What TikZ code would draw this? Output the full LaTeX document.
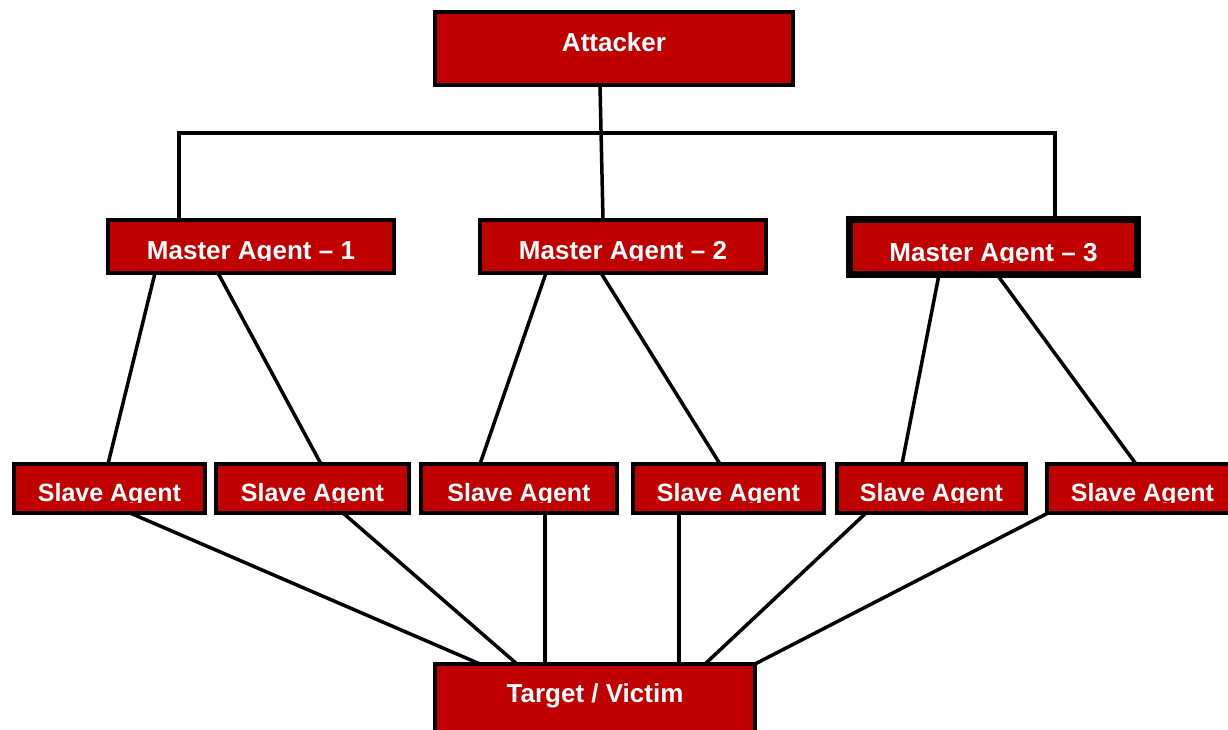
\documentclass[tikz,border=0pt]{standalone}
\usepackage{fontspec}
\setmainfont{Liberation Sans}
\usetikzlibrary{calc,backgrounds}
\definecolor{boxred}{RGB}{192,0,0}
\tikzset{
  box/.style={draw=black, fill=boxred, line width=4pt, inner sep=0pt, outer sep=0pt},
  bigbox/.style={box, minimum height=73pt},
  mbox/.style={box, minimum height=53pt},
  sbox/.style={box, minimum height=49pt},
  lbl/.style={text=white, font=\bfseries\fontsize{26}{30}\selectfont, inner sep=0pt, anchor=base},
  slbl/.style={lbl, font=\bfseries\fontsize{25}{30}\selectfont},
  conn/.style={line width=3.5pt, draw=black},
}
\newcommand\cliptext[5]{%
  \begin{scope}
    \clip (#1.north west) rectangle ([yshift={(#4-1)*1pt}]#1.south east);
    \node[#3] (#2) at ([yshift={#4*1pt}]#1.south) {#5};
  \end{scope}}
\begin{document}
\begin{tikzpicture}[x=1pt,y=-1pt]
\useasboundingbox (0,0) rectangle (1228,730);
\clip (0,0) rectangle (1228,730);
% boxes
\node[bigbox, minimum width=358pt] (attacker) at (614,48.5) {};
\node[mbox, minimum width=286pt] (m1) at (251,246.5) {};
\node[mbox, minimum width=286pt] (m2) at (623,246.5) {};
\node[box, line width=7pt, minimum width=288pt, minimum height=55pt] (m3) at (993.5,247) {};
\node[sbox, minimum width=191pt] (s1) at (109.5,488.5) {};
\node[sbox, minimum width=193pt] (s2) at (312.5,488.5) {};
\node[sbox, minimum width=196pt] (s3) at (519,488.5) {};
\node[sbox, minimum width=191pt] (s4) at (728.5,488.5) {};
\node[sbox, minimum width=189pt] (s5) at (931.5,488.5) {};
\node[sbox, minimum width=191pt] (s6) at (1142.5,488.5) {};
\node[bigbox, minimum width=320pt] (target) at (595,700.5) {};
% labels
\node[lbl] (attacker-t) at ([yshift=33pt]attacker.south) {Attacker};
\node[lbl] (target-t) at ([yshift=-38pt]target.north) {Target / Victim};
\cliptext{m1}{m1-t}{lbl}{13.5}{Master Agent – 1}
\cliptext{m2}{m2-t}{lbl}{13.5}{Master Agent – 2}
\cliptext{m3}{m3-t}{lbl}{13.5}{Master Agent – 3}
\cliptext{s1}{s1-t}{slbl}{12}{Slave Agent}
\cliptext{s2}{s2-t}{slbl}{12}{Slave Agent}
\cliptext{s3}{s3-t}{slbl}{12}{Slave Agent}
\cliptext{s4}{s4-t}{slbl}{12}{Slave Agent}
\cliptext{s5}{s5-t}{slbl}{12}{Slave Agent}
\cliptext{s6}{s6-t}{slbl}{12}{Slave Agent}
% connectors
\begin{scope}[on background layer]
\fill[white] (0,0) rectangle (1228,730);
\draw[conn] ($(attacker.south)+(-14,0)$) -- ($(m2.north)+(-20,0)$);
\draw[conn] ($(m1.north)+(-72,0)$) -- ++(0,-87) -| ($(m3.north)+(61.5,0)$);
\draw[conn] ($(m1.south)+(-96,0)$) -- ($(s1.north)+(-1.5,0)$);
\draw[conn] ($(m1.south)+(-33,0)$) -- ($(s2.north)+(8.5,0)$);
\draw[conn] ($(m2.south)+(-77,0)$) -- ($(s3.north)+(-39,0)$);
\draw[conn] ($(m2.south)+(-22,0)$) -- ($(s4.north)+(-8.5,0)$);
\draw[conn] ($(m3.south)+(-54.5,0)$) -- ($(s5.north)+(-29.5,0)$);
\draw[conn] ($(m3.south)+(3.5,0)$) -- ($(s6.north)+(-6.5,0)$);
\draw[conn] ($(s1.south)+(20.5,0)$) -- ($(target.north)+(-115,0)$);
\draw[conn] ($(s2.south)+(30.5,0)$) -- ($(target.north)+(-78,0)$);
\draw[conn] ($(s3.south)+(26,0)$) -- ($(target.north)+(-50,0)$);
\draw[conn] ($(s4.south)+(-49.5,0)$) -- ($(target.north)+(84,0)$);
\draw[conn] ($(s5.south)+(-65.5,0)$) -- ($(target.north)+(110,0)$);
\draw[conn] ($(s6.south)+(-94.5,0)$) -- ($(target.north)+(160,0)$);
\end{scope}
\end{tikzpicture}
\end{document}
